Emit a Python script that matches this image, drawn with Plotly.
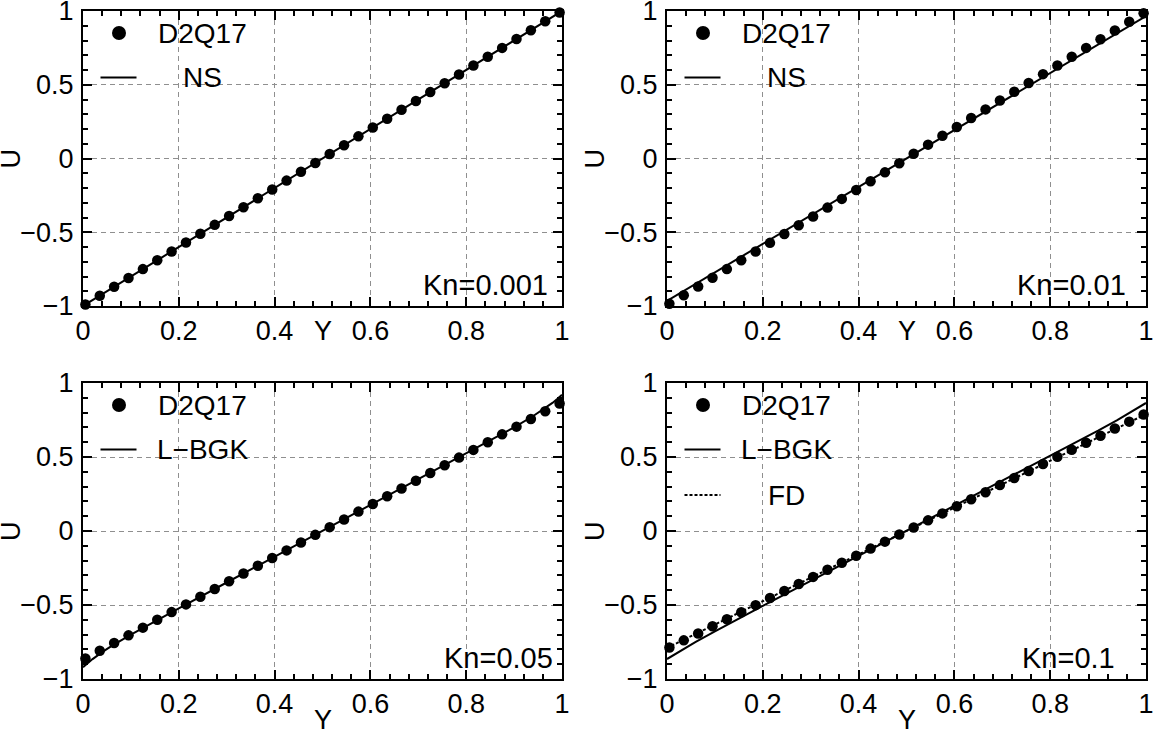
import plotly.graph_objects as go

# ---------------- data ----------------
x_ticks = [0, 0.2, 0.4, 0.6, 0.8, 1]
x_ticktext = ["0", "0.2", "0.4", "0.6", "0.8", "1"]
y_ticks = [-1, -0.5, 0, 0.5, 1]
y_ticktext = ["\u22121", "\u22120.5", "0", "0.5", "1"]

kn_labels = ["Kn=0.001", "Kn=0.01", "Kn=0.05", "Kn=0.1"]

# D2Q17 sample positions (same in every panel)
dots_y = [0.005, 0.035, 0.065, 0.095, 0.125, 0.155, 0.185, 0.215, 0.245, 0.275,
          0.305, 0.335, 0.365, 0.395, 0.425, 0.455, 0.485, 0.515, 0.545, 0.575,
          0.605, 0.635, 0.665, 0.695, 0.725, 0.755, 0.785, 0.815, 0.845, 0.875,
          0.905, 0.935, 0.965, 0.995]

d2q17_kn0001 = [-0.99, -0.93, -0.87, -0.81, -0.75, -0.69, -0.63, -0.57, -0.51, -0.45,
                -0.39, -0.33, -0.27, -0.21, -0.15, -0.09, -0.03, 0.03, 0.09, 0.15,
                0.21, 0.27, 0.33, 0.39, 0.45, 0.51, 0.57, 0.63, 0.69, 0.75,
                0.81, 0.87, 0.93, 0.99]
d2q17_kn001 = [-0.985, -0.927, -0.868, -0.809, -0.750, -0.690, -0.631, -0.572, -0.512, -0.453,
               -0.393, -0.333, -0.274, -0.214, -0.154, -0.094, -0.032, 0.032, 0.094, 0.154,
               0.214, 0.274, 0.333, 0.393, 0.453, 0.512, 0.572, 0.631, 0.690, 0.750,
               0.809, 0.868, 0.927, 0.985]
d2q17_kn005 = [-0.861, -0.809, -0.757, -0.705, -0.653, -0.600, -0.548, -0.496, -0.444, -0.392,
               -0.339, -0.287, -0.235, -0.183, -0.131, -0.078, -0.026, 0.026, 0.078, 0.131,
               0.183, 0.235, 0.287, 0.339, 0.392, 0.444, 0.496, 0.548, 0.600, 0.653,
               0.705, 0.757, 0.809, 0.861]
d2q17_kn01 = [-0.787, -0.739, -0.692, -0.644, -0.596, -0.549, -0.501, -0.453, -0.405, -0.358,
              -0.310, -0.262, -0.215, -0.167, -0.119, -0.072, -0.024, 0.024, 0.072, 0.119,
              0.167, 0.215, 0.262, 0.310, 0.358, 0.405, 0.453, 0.501, 0.549, 0.596,
              0.644, 0.692, 0.739, 0.787]

# NS solutions (straight lines)
ns_y = [0, 1]
ns_kn0001 = [-1.0, 1.0]
ns_kn001 = [-0.965, 0.965]

# L-BGK solutions
lbgk_y = [0, 0.01, 0.02, 0.04, 0.06, 0.1, 0.15, 0.2, 0.3, 0.4, 0.5,
          0.6, 0.7, 0.8, 0.85, 0.9, 0.94, 0.96, 0.98, 0.99, 1.0]
lbgk_kn005 = [-0.92, -0.8915, -0.8655, -0.8188, -0.7768, -0.7001, -0.6102, -0.522, -0.348, -0.174, 0.0,
              0.174, 0.348, 0.522, 0.6102, 0.7001, 0.7768, 0.8188, 0.8655, 0.8915, 0.92]
lbgk_kn01 = [-0.865, -0.8449, -0.8252, -0.7869, -0.7498, -0.678, -0.5909, -0.5054, -0.3363, -0.168, 0.0,
             0.168, 0.3363, 0.5054, 0.5909, 0.678, 0.7498, 0.7869, 0.8252, 0.8449, 0.865]

# FD solution
fd_y = [0, 1]
fd_kn01 = [-0.79, 0.79]

# ---------------- layout constants ----------------
FONT = "Liberation Sans, Arial, Helvetica, sans-serif"
W, H = 1156, 738
ML, MR, MT, MB = 83, 10, 11, 59
PW = W - ML - MR
PH = H - MT - MB
# panel pixel boxes (left, right, top, bottom)
boxes = [(83, 562, 11, 306), (667, 1146, 11, 306),
         (83, 562, 383, 679), (667, 1146, 383, 679)]

fig = go.Figure()

panels = [
    dict(lines=[(ns_y, ns_kn0001, "solid", "NS")], dots=d2q17_kn0001, kn_right=12, ylab_dx=0),
    dict(lines=[(ns_y, ns_kn001, "solid", "NS")], dots=d2q17_kn001, kn_right=18, ylab_dx=0),
    dict(lines=[(lbgk_y, lbgk_kn005, "solid", "L\u2212BGK")], dots=d2q17_kn005, kn_right=7, ylab_dx=0),
    dict(lines=[(lbgk_y, lbgk_kn01, "solid", "L\u2212BGK"), (fd_y, fd_kn01, "3px,2px", "FD")],
         dots=d2q17_kn01, kn_right=29, ylab_dx=0),
]

annotations = []
shapes = []
axis_common_x = dict(
    range=[0, 1], tickmode="array", tickvals=x_ticks, ticktext=x_ticktext,
    ticks="inside", ticklen=9, tickwidth=2, tickcolor="black",
    showline=True, linewidth=2, linecolor="black", mirror="allticks",
    showgrid=True, gridcolor="#8f8f8f", gridwidth=1, griddash="5px,4px",
    zeroline=False, tickfont=dict(family=FONT, size=27, color="black"),
    ticklabelstandoff=0, ticklabeloverflow="allow",
    minor=dict(tick0=0, dtick=0.04, ticks="inside", ticklen=5, tickwidth=2,
               tickcolor="black", showgrid=False),
)
axis_common_y = dict(
    range=[-1, 1], tickmode="array", tickvals=y_ticks, ticktext=y_ticktext,
    ticks="inside", ticklen=9, tickwidth=2, tickcolor="black",
    showline=True, linewidth=2, linecolor="black", mirror="allticks",
    showgrid=True, gridcolor="#8f8f8f", gridwidth=1, griddash="5px,4px",
    zeroline=False, tickfont=dict(family=FONT, size=27, color="black"),
    ticklabelstandoff=2, ticklabeloverflow="allow",
    minor=dict(tick0=-1, dtick=0.1, ticks="inside", ticklen=5, tickwidth=2,
               tickcolor="black", showgrid=False),
)

layout_axes = {}
for i, (p, box) in enumerate(zip(panels, boxes)):
    n = i + 1
    xa = "x" if n == 1 else f"x{n}"
    ya = "y" if n == 1 else f"y{n}"
    l, r, t, b = box
    pw, ph = r - l, b - t
    xd = [(l - ML) / PW, (r - ML) / PW]
    yd = [(H - MB - b) / PH, (H - MB - t) / PH]
    xkey = "xaxis" if n == 1 else f"xaxis{n}"
    ykey = "yaxis" if n == 1 else f"yaxis{n}"
    layout_axes[xkey] = dict(axis_common_x, domain=xd, anchor=ya)
    layout_axes[ykey] = dict(axis_common_y, domain=yd, anchor=xa)

    for (lx, ly, dash, name) in p["lines"]:
        fig.add_trace(go.Scatter(x=lx, y=ly, mode="lines", name=name,
                                 line=dict(color="black", width=2, dash=dash),
                                 xaxis=xa, yaxis=ya, showlegend=False, cliponaxis=False))
    fig.add_trace(go.Scatter(x=dots_y, y=p["dots"], mode="markers", name="D2Q17",
                             marker=dict(color="black", size=10.5, symbol="circle"),
                             xaxis=xa, yaxis=ya, showlegend=False, cliponaxis=False))

    xr = f"{xa} domain"
    yr = f"{ya} domain"
    # Kn label
    annotations.append(dict(text=kn_labels[i], xref=xr, yref=yr,
                            x=1 - p["kn_right"] / pw, y=21 / ph,
                            xanchor="right", yanchor="middle", showarrow=False,
                            font=dict(family=FONT, size=29, color="black")))
    # axis titles
    annotations.append(dict(text="U", xref=xr, yref=yr, x=-72 / pw, y=0.5,
                            xanchor="center", yanchor="middle", textangle=-90,
                            showarrow=False, font=dict(family=FONT, size=27, color="black")))
    ybelow = 25 if n <= 2 else 41
    annotations.append(dict(text="Y", xref=xr, yref=yr, x=0.5 + p["ylab_dx"] / pw, y=-ybelow / ph,
                            xanchor="center", yanchor="middle", showarrow=False,
                            font=dict(family=FONT, size=27, color="black")))
    # legend (manual)
    rows = [("D2Q17", None)] + [(name, dash) for (_, _, dash, name) in p["lines"]]
    row_y = [22, 66.5, 112]
    for k, (name, dash) in enumerate(rows):
        yy = 1 - row_y[k] / ph
        if dash is None:
            shapes.append(dict(type="circle", xref=xr, yref=yr,
                               x0=(36 - 7) / pw, x1=(36 + 7) / pw,
                               y0=yy - 7 / ph, y1=yy + 7 / ph,
                               fillcolor="black", line=dict(width=0)))
        else:
            shapes.append(dict(type="line", xref=xr, yref=yr,
                               x0=17.5 / pw, x1=53.5 / pw, y0=yy, y1=yy,
                               line=dict(color="black", width=2, dash=dash)))
        annotations.append(dict(text=name, xref=xr, yref=yr, x=119 / pw, y=yy,
                                xanchor="center", yanchor="middle", showarrow=False,
                                font=dict(family=FONT, size=28, color="black")))

fig.update_layout(
    width=W, height=H,
    margin=dict(l=ML, r=MR, t=MT, b=MB, autoexpand=False),
    paper_bgcolor="white", plot_bgcolor="white",
    showlegend=False,
    annotations=annotations, shapes=shapes,
    font=dict(family=FONT, color="black"),
    **layout_axes,
)

fig.write_html("out.html", config={"displayModeBar": False},
               post_script="document.body.style.margin='0';document.body.style.overflow='hidden';")
